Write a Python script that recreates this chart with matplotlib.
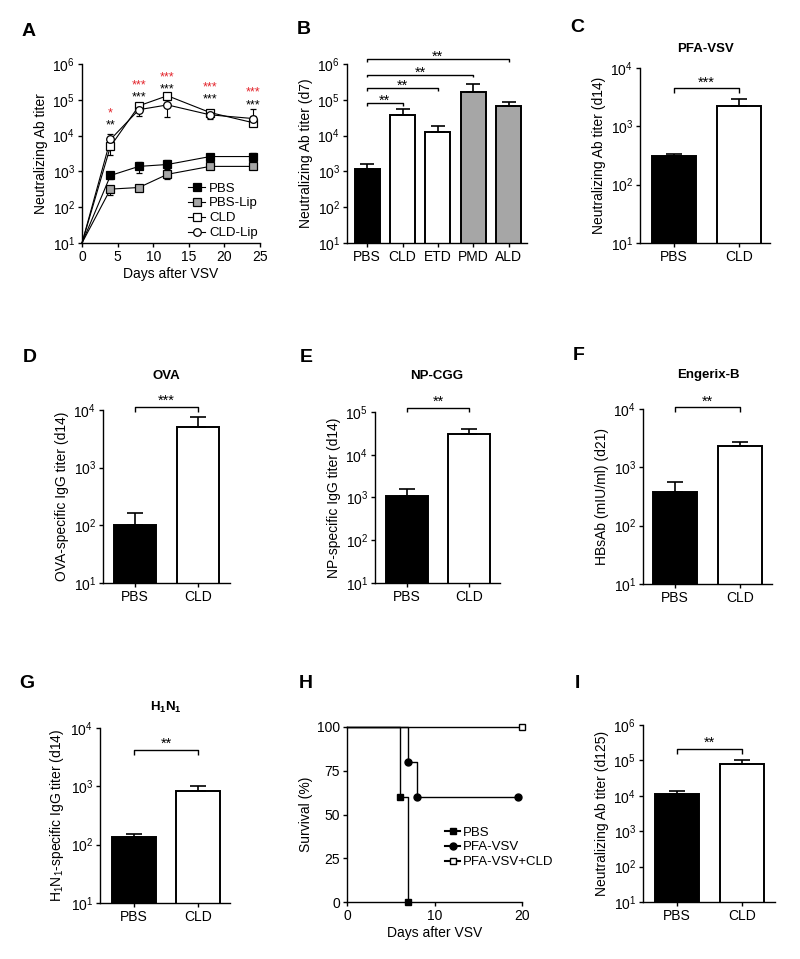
import matplotlib
matplotlib.use("Agg")
import matplotlib.pyplot as plt
from matplotlib.lines import Line2D
import numpy as np

plt.rcParams.update({
    "font.family": ["Liberation Sans", "DejaVu Sans"],
    "font.size": 10,
    "mathtext.fontset": "custom",
    "mathtext.rm": "Liberation Sans",
    "mathtext.it": "Liberation Sans:italic",
    "mathtext.bf": "Liberation Sans:bold",
    "axes.linewidth": 1.0,
    "xtick.major.width": 1.0,
    "ytick.major.width": 1.0,
    "xtick.major.size": 3,
    "ytick.major.size": 3,
    "xtick.major.pad": 2,
    "ytick.major.pad": 2,
})

W, H = 800, 959
RED = "#e3242b"
GRAY = "#a6a6a6"
STAR_FS = 10.5
A_STAR_FS = 9
FS = 10

# ---- panel A: titer kinetics ----
days = [0, 4, 8, 12, 18, 24]
pbs_mean = [10, 770, 1380, 1560, 2600, 2600]
pbs_lo = [10, 620, 930, 1200, 2100, 2100]
pbs_hi = [10, 950, 1780, 2040, 3160, 3200]
pbslip_mean = [10, 320, 355, 830, 1380, 1380]
pbslip_lo = [10, 220, 310, 600, 1150, 1150]
pbslip_hi = [10, 390, 400, 1070, 1600, 1600]
cld_mean = [10, 5000, 68000, 130000, 44000, 23000]
cld_lo = [10, 2800, 58000, 110000, 38000, 18000]
cld_hi = [10, 7000, 76000, 140000, 48000, 35000]
cldlip_mean = [10, 7800, 53000, 72000, 38000, 30000]
cldlip_lo = [10, 5000, 36000, 34000, 30000, 22000]
cldlip_hi = [10, 11000, 60000, 100000, 42000, 56000]
a_star_days = [4, 8, 12, 18, 24]
a_red_stars = ["*", "***", "***", "***", "***"]
a_red_y = [10**4.75, 10**5.53, 10**5.75, 10**5.47, 10**5.33]
a_black_stars = ["**", "***", "***", "***", "***"]
a_black_y = [10**4.39, 10**5.19, 10**5.42, 10**5.14, 10**4.97]

# ---- panel B: depletion agents ----
b_groups = ["PBS", "CLD", "ETD", "PMD", "ALD"]
b_vals = [1200, 38000, 13000, 160000, 69000]
b_err = [1600, 56000, 19000, 280000, 85000]
b_colors = ["black", "white", "white", GRAY, GRAY]
b_pairs = [(0, 1), (0, 2), (0, 3), (0, 4)]
b_bracket_y = [10**4.91, 10**5.33, 10**5.70, 10**6.14]
b_labels = ["**", "**", "**", "**"]

# ---- two-bar panels ----
two_groups = ["PBS", "CLD"]
c_vals, c_err = [310, 2200], [340, 3000]
d_vals, d_err = [100, 5100], [165, 7500]
e_vals, e_err = [1080, 30000], [1580, 41000]
f_vals, f_err = [380, 2300], [550, 2750]
g_vals, g_err = [135, 820], [150, 1020]
i_vals, i_err = [11000, 78000], [13800, 102000]

# ---- panel H: survival ----
h_pbs_days, h_pbs_surv = [0, 6, 7], [100, 60, 0]
h_pfa_days, h_pfa_surv = [0, 7, 8, 19.5], [100, 80, 60, 60]
h_cld_days, h_cld_surv = [0, 20], [100, 100]


def rect(l, t, r, b):
    return [l / W, 1 - b / H, (r - l) / W, (b - t) / H]


def style(ax):
    for s in ("top", "right"):
        ax.spines[s].set_visible(False)
    ax.tick_params(direction="out", labelsize=FS)


def shift_y(ax, y, dpx):
    xd, yd = ax.transData.transform((0, y))
    return ax.transData.inverted().transform((xd, yd + dpx))[1]


def star(ax, x, y, label, color="black", off_pt=0.0, fs=STAR_FS):
    # y is where the asterisks' visual centre should sit
    ax.annotate(label, xy=(x, y), xytext=(0, off_pt - 0.58 * fs),
                textcoords="offset points", ha="center", va="baseline",
                fontsize=fs, color=color, annotation_clip=False)


def bracket(ax, x1, x2, y, label, drop_px=4.5, star_pt=7.5):
    y_low = shift_y(ax, y, -drop_px)
    ax.plot([x1, x1, x2, x2], [y_low, y, y, y_low], color="black", lw=1.0,
            clip_on=False, solid_capstyle="butt")
    star(ax, (x1 + x2) / 2, y, label, off_pt=star_pt)


def bar_panel(ax, groups, vals, err, colors, width, xlim, ylim, ylabel, capsize=6):
    x = np.arange(len(groups))
    ax.set_yscale("log")
    ax.bar(x, vals, width=width, color=colors, edgecolor="black", linewidth=1.4, zorder=2)
    up = np.array(err) - np.array(vals)
    ax.errorbar(x, vals, yerr=[np.zeros(len(vals)), up], fmt="none", ecolor="black",
                elinewidth=1.2, capsize=capsize, capthick=1.2, zorder=3)
    ax.set_xlim(*xlim)
    ax.set_ylim(*ylim)
    ax.minorticks_off()
    ax.set_xticks(x)
    ax.set_xticklabels(groups)
    ax.set_ylabel(ylabel, fontsize=FS, labelpad=3)
    style(ax)


fig = plt.figure(figsize=(W / 100, H / 100), dpi=100)

# A
ax = fig.add_axes(rect(82, 64, 260, 243))
ax.set_yscale("log")
series = [
    ("PBS", pbs_mean, pbs_lo, pbs_hi, "s", "black"),
    ("PBS-Lip", pbslip_mean, pbslip_lo, pbslip_hi, "s", GRAY),
    ("CLD", cld_mean, cld_lo, cld_hi, "s", "white"),
    ("CLD-Lip", cldlip_mean, cldlip_lo, cldlip_hi, "o", "white"),
]
handles = []
for name, mean, lo, hi, mk, face in series:
    mean, lo, hi = np.array(mean), np.array(lo), np.array(hi)
    ax.plot(days, mean, color="black", lw=0.8, clip_on=False, zorder=2)
    ax.errorbar(days[1:], mean[1:], yerr=[mean[1:] - lo[1:], hi[1:] - mean[1:]],
                fmt=mk, ms=5.5, mfc=face, mec="black", mew=0.9, ecolor="black",
                elinewidth=0.8, capsize=2.5, capthick=0.8, zorder=3)
    handles.append(Line2D([], [], color="black", lw=0.8, marker=mk, ms=5.5,
                          mfc=face, mec="black", mew=0.9))
ax.set_xlim(0, 25)
ax.set_ylim(10, 1e6)
ax.minorticks_off()
ax.set_xticks([0, 5, 10, 15, 20, 25])
ax.set_xlabel("Days after VSV", fontsize=FS, labelpad=2)
ax.set_ylabel("Neutralizing Ab titer", fontsize=FS, labelpad=3)
style(ax)
for d, lab, y in zip(a_star_days, a_red_stars, a_red_y):
    star(ax, d, y, lab, color=RED, fs=A_STAR_FS)
for d, lab, y in zip(a_star_days, a_black_stars, a_black_y):
    star(ax, d, y, lab, fs=A_STAR_FS)
ax.legend(handles, [s[0] for s in series], loc="lower right", bbox_to_anchor=(1.04, -0.03),
          frameon=False, fontsize=9.5, handlelength=1.3, handletextpad=0.3,
          labelspacing=0.2, borderpad=0.2)

# B
ax = fig.add_axes(rect(347, 64, 527, 243))
bar_panel(ax, b_groups, b_vals, b_err, b_colors, 0.71, (-0.57, 4.52), (10, 1e6),
          "Neutralizing Ab titer (d7)", capsize=5)
for (i, j), y, lab in zip(b_pairs, b_bracket_y, b_labels):
    bracket(ax, i, j, y, lab, drop_px=2.7, star_pt=4.8)

# two-bar panels
panels = [
    ((640, 68, 770, 243), c_vals, c_err, (-0.52, 1.48), (10, 1e4),
     "Neutralizing Ab titer (d14)", 10**3.65, "***"),
    ((103, 410, 230, 583), d_vals, d_err, (-0.51, 1.51), (10, 1e4),
     "OVA-specific IgG titer (d14)", 10**4.05, "***"),
    ((375, 412, 500, 583), e_vals, e_err, (-0.52, 1.50), (10, 1e5),
     "NP-specific IgG titer (d14)", 10**5.1, "**"),
    ((643, 409, 772, 584), f_vals, f_err, (-0.49, 1.49), (10, 1e4),
     "HBsAb (mIU/ml) (d21)", 10**4.03, "**"),
    ((100, 728, 230, 903), g_vals, g_err, (-0.53, 1.50), (10, 1e4),
     "H$_1$N$_1$-specific IgG titer (d14)", 10**3.62, "**"),
    ((643, 725, 775, 902), i_vals, i_err, (-0.52, 1.51), (10, 1e6),
     "Neutralizing Ab titer (d125)", 10**5.32, "**"),
]
for box, vals, err, xlim, ylim, ylabel, by, lab in panels:
    ax = fig.add_axes(rect(*box))
    bar_panel(ax, two_groups, vals, err, ["black", "white"], 0.68, xlim, ylim, ylabel)
    bracket(ax, 0, 1, by, lab)

# H
ax = fig.add_axes(rect(347, 727, 522, 902))
h_series = [
    ("PBS", h_pbs_days, h_pbs_surv, "s", "black"),
    ("PFA-VSV", h_pfa_days, h_pfa_surv, "o", "black"),
    ("PFA-VSV+CLD", h_cld_days, h_cld_surv, "s", "white"),
]
h_handles = []
for name, t, s, mk, face in h_series:
    ax.step(t, s, where="post", color="black", lw=1.0, clip_on=False, zorder=2)
    ax.plot(t[1:], s[1:], ls="none", marker=mk, ms=5, mfc=face, mec="black", mew=1.0,
            clip_on=False, zorder=3)
    h_handles.append(Line2D([], [], color="black", lw=1.5, marker=mk, ms=5,
                            mfc=face, mec="black", mew=1.0))
ax.set_xlim(0, 20)
ax.set_ylim(0, 100)
ax.set_xticks([0, 10, 20])
ax.set_yticks([0, 25, 50, 75, 100])
ax.set_xlabel("Days after VSV", fontsize=FS, labelpad=2)
ax.set_ylabel("Survival (%)", fontsize=FS, labelpad=3)
style(ax)
ax.legend(h_handles, [s[0] for s in h_series], loc="upper left", bbox_to_anchor=(0.52, 0.47),
          frameon=False, fontsize=9.5, handlelength=1.2, handletextpad=0.2,
          labelspacing=0.2, borderpad=0.0)

# panel letters
letters = [("A", 22, 31), ("B", 297, 30), ("C", 570, 28), ("D", 23, 357), ("E", 300, 357),
           ("F", 573, 355), ("G", 19, 683), ("H", 299, 683), ("I", 575, 683)]
for lab, x, y in letters:
    fig.text(x / W, 1 - y / H, lab, fontsize=14, fontweight="bold", ha="left", va="center")

# panel titles
titles = [("PFA-VSV", 705, 49), ("OVA", 166, 376), ("NP-CGG", 437, 376),
          ("Engerix-B", 708, 375), (r"$\mathbf{H_1N_1}$", 166, 707)]
for lab, x, y in titles:
    fig.text(x / W, 1 - y / H, lab, fontsize=9.5, fontweight="bold", ha="center", va="center")

fig.savefig("out.png", dpi=100)
